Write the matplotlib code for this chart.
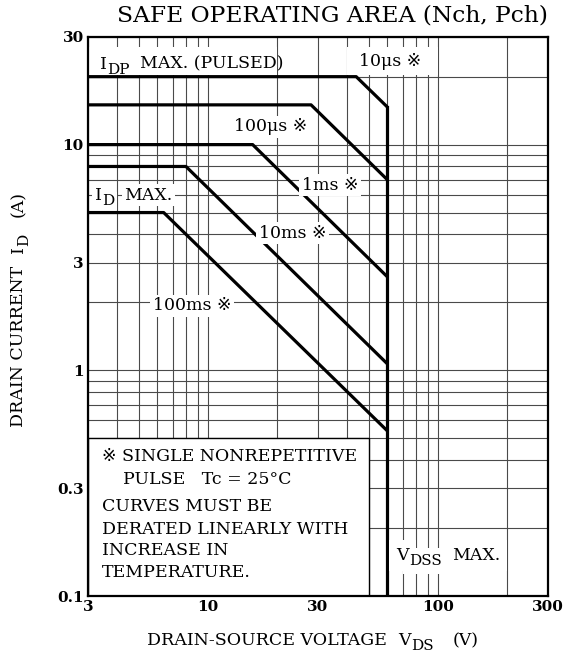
import matplotlib
matplotlib.use("Agg")
import matplotlib.pyplot as plt
from matplotlib.patches import Rectangle
from matplotlib.ticker import FixedLocator, NullFormatter, LogLocator

plt.rcParams['font.family'] = ['DejaVu Serif', 'DejaVu Sans', 'Noto Sans CJK JP']

# SOA curves: (V_DS, I_D) break points, each runs to V_DSS max
vds_max = 60
v_10us = [3, 44, 60]
i_10us = [20, 20, 14.7]
v_100us = [3, 28, 60]
i_100us = [15, 15, 7.0]
v_1ms = [3, 15.6, 60]
i_1ms = [10, 10, 2.6]
v_10ms = [3, 8, 60]
i_10ms = [8, 8, 1.07]
v_100ms = [3, 6.4, 60]
i_100ms = [5, 5, 0.54]

x_ticks = [3, 10, 30, 100, 300]
y_ticks = [0.1, 0.3, 1, 3, 10, 30]
y_tick_labels = ['0.1', '0.3', '1', '3', '10', '30']

FS = 12.5
SUB = 11


def chain(ax, x, y, parts, transform=None, rotation=0, bbox=None, color='black',
          zorder=5, drop=3.0):
    """Write text pieces one after another; parts = (text, is_sub, gap_pt)."""
    if transform is None:
        transform = ax.transData
    kw = dict(color=color, bbox=bbox, zorder=zorder)
    s0 = parts[0][0]
    if rotation == 0:
        first = ax.text(x, y, s0, transform=transform, fontsize=FS, ha='left',
                        va='baseline', clip_on=False, **kw)
    else:
        first = ax.text(x, y, s0, transform=transform, fontsize=FS, ha='right',
                        va='bottom', rotation=90, clip_on=False, **kw)
    prev = first
    for s, is_sub, gap in parts[1:]:
        size = SUB if is_sub else FS
        d = drop if is_sub else 0
        if rotation == 0:
            prev = ax.annotate(s, xy=(1, 0), xycoords=(prev, first), xytext=(gap, -d),
                               textcoords='offset points', fontsize=size, ha='left',
                               va='bottom', annotation_clip=False, **kw)
        else:
            prev = ax.annotate(s, xy=(1, 1), xycoords=(first, prev), xytext=(d, gap),
                               textcoords='offset points', fontsize=size, ha='right',
                               va='bottom', rotation=90, annotation_clip=False, **kw)
    return first


def label_with_bg(ax, x, y, parts, pad):
    # white pass for the background, then the black text on top
    box = dict(boxstyle='square,pad=%g' % pad, facecolor='white', edgecolor='none')
    chain(ax, x, y, parts, bbox=box, color='white', zorder=4)
    chain(ax, x, y, parts, zorder=5)


fig = plt.figure(figsize=(5.66, 6.64), dpi=100)
ax = fig.add_axes([0.1555, 0.1024, 0.8125, 0.842])
ax.set_xscale('log')
ax.set_yscale('log')
ax.set_xlim(3, 300)
ax.set_ylim(0.1, 30)

ax.xaxis.set_major_locator(FixedLocator(x_ticks))
ax.xaxis.set_minor_locator(LogLocator(base=10, subs=range(1, 10)))
ax.xaxis.set_minor_formatter(NullFormatter())
ax.set_xticklabels([str(t) for t in x_ticks], fontweight='bold', fontsize=11)
ax.yaxis.set_major_locator(FixedLocator(y_ticks))
ax.yaxis.set_minor_locator(LogLocator(base=10, subs=range(1, 10)))
ax.yaxis.set_minor_formatter(NullFormatter())
ax.set_yticklabels(y_tick_labels, fontweight='bold', fontsize=11)
ax.tick_params(which='both', length=0, pad=3)
ax.grid(which='both', color='#4a4a4a', lw=0.8, zorder=0)
for s in ax.spines.values():
    s.set_linewidth(1.6)

curves = [(v_10us, i_10us), (v_100us, i_100us), (v_1ms, i_1ms),
          (v_10ms, i_10ms), (v_100ms, i_100ms)]
for v, i in curves:
    ax.plot(v, i, color='black', lw=2.3, zorder=3, solid_capstyle='butt')
ax.plot([vds_max, vds_max], [i_10us[-1], 0.1], color='black', lw=2.3, zorder=3)

# white panels behind the top labels and the note box
ax.add_patch(Rectangle((3, 20.4), 20 - 3, 27 - 20.4, facecolor='white',
                       edgecolor='none', zorder=2))
ax.add_patch(Rectangle((40, 20.4), 100 - 40, 27 - 20.4, facecolor='white',
                       edgecolor='none', zorder=2))
ax.add_patch(Rectangle((3, 0.1), 50 - 3, 0.5 - 0.1, facecolor='white',
                       edgecolor='black', lw=1.0, zorder=2))

bs = dict(boxstyle='square,pad=0.15', facecolor='white', edgecolor='none')

chain(ax, 3.38, 21.7, [('I', False, 0), ('DP', True, 0.3), ('MAX. (PULSED)', False, 7)])
ax.text(62, 23.3, '10μs ※', fontsize=FS, va='center', ha='center', zorder=4)
ax.text(18.6, 12, '100μs ※', fontsize=FS, va='center', ha='center', bbox=bs, zorder=4)
ax.text(33.9, 6.6, '1ms ※', fontsize=FS, va='center', ha='center', bbox=bs, zorder=4)
label_with_bg(ax, 3.21, 5.69, [('I', False, 0), ('D', True, 0.3), ('MAX.', False, 7)], 0.15)
ax.text(23.3, 4.05, '10ms ※', fontsize=FS, va='center', ha='center', bbox=bs, zorder=4)
ax.text(8.5, 1.93, '100ms ※', fontsize=FS, va='center', ha='center', bbox=bs, zorder=4)
label_with_bg(ax, 65.8, 0.1445, [('V', False, 0), ('DSS', True, 0.3), ('MAX.', False, 7)], 0.4)

note = ['※ SINGLE NONREPETITIVE', 'PULSE   Tc = 25°C', 'CURVES MUST BE',
        'DERATED LINEARLY WITH', 'INCREASE IN', 'TEMPERATURE.']
note_x = [3.44, 4.27, 3.44, 3.44, 3.44, 3.44]
note_y = [0.415, 0.327, 0.248, 0.198, 0.159, 0.127]
for t, x, y in zip(note, note_x, note_y):
    ax.text(x, y, t, fontsize=FS, va='center', zorder=4)

fig.text(0.588, 0.977, 'SAFE OPERATING AREA (Nch, Pch)', fontsize=16.8, ha='center', va='center')
chain(ax, 0.2597, 0.0286, [('DRAIN-SOURCE VOLTAGE', False, 0), ('V', False, 8),
                           ('DS', True, 0.3), ('(V)', False, 14)], transform=fig.transFigure)
chain(ax, 0.047, 0.3574, [('DRAIN CURRENT', False, 0), ('I', False, 9),
                          ('D', True, 0.3), ('(A)', False, 12)],
      transform=fig.transFigure, rotation=90)

fig.savefig('out.png', dpi=100)
